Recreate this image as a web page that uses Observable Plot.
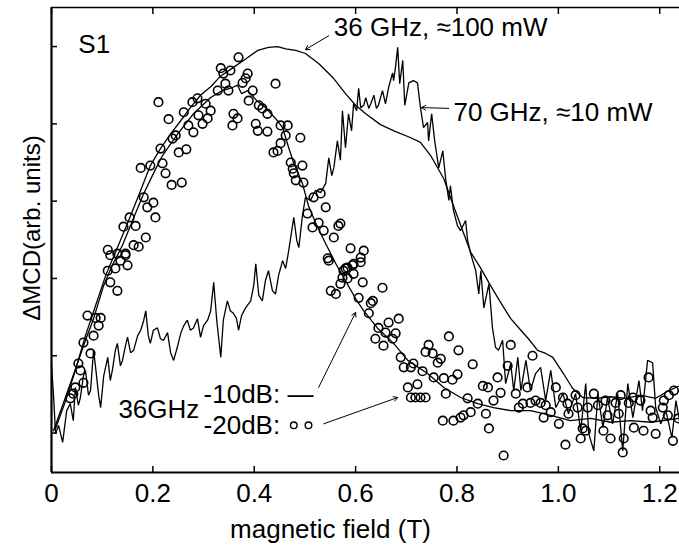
<!DOCTYPE html>
<html>
<head>
<meta charset="utf-8">
<script src="https://cdn.jsdelivr.net/npm/d3@7"></script>
<script src="https://cdn.jsdelivr.net/npm/@observablehq/plot@0.6"></script>
<style>
  html, body { margin: 0; padding: 0; background: #fff; }
  #chart { width: 679px; height: 546px; overflow: hidden; }
</style>
</head>
<body>
<div id="chart"></div>
<script>
// ---------- axes ----------
const xTicks = [0, 0.2, 0.4, 0.6, 0.8, 1.0, 1.2];
const xTickLabels = ["0", "0.2", "0.4", "0.6", "0.8", "1.0", "1.2"];
const yTicks = [0, 1, 2, 3, 4, 5];
const xDomain = [0, 1.239];
const yDomain = [-0.51, 5.505];
const xLabel = "magnetic field (T)";
const yLabel = "ΔMCD(arb. units)";

// ---------- 36 GHz, ≈100 mW (smooth line) ----------
const mw100_36GHz = [
  [0.008,0.06],[0.028,0.42],[0.047,0.81],[0.067,1.26],[0.087,1.65],[0.107,2.04],[0.132,2.43],
  [0.156,2.81],[0.176,3.14],[0.195,3.46],[0.215,3.68],[0.235,3.87],[0.255,4.04],[0.274,4.21],
  [0.294,4.37],[0.314,4.48],[0.334,4.62],[0.359,4.73],[0.383,4.84],[0.407,4.95],[0.428,4.99],
  [0.446,5.00],[0.462,4.97],[0.482,4.95],[0.501,4.91],[0.527,4.78],[0.555,4.60],[0.580,4.39],
  [0.600,4.24],[0.620,4.13],[0.649,3.99],[0.679,3.90],[0.709,3.82],[0.728,3.76],[0.748,3.59],
  [0.774,3.29],[0.793,2.94],[0.811,2.62],[0.827,2.34],[0.847,2.13],[0.866,1.91],[0.886,1.69],
  [0.906,1.48],[0.926,1.33],[0.941,1.22],[0.959,1.07],[0.975,1.03],[0.989,0.98],[1.009,0.78],
  [1.028,0.58],[1.048,0.46],[1.074,0.45],[1.103,0.47],[1.133,0.45],[1.162,0.49],[1.192,0.45],
  [1.218,0.55],[1.239,0.61]
];

// ---------- 70 GHz, ≈10 mW (noisy line) ----------
const mw10_70GHz = [
  [0.000,0.87],[0.004,0.49],[0.008,-0.01],[0.014,0.10],[0.022,-0.12],[0.030,0.29],[0.037,0.38],
  [0.043,0.16],[0.047,0.59],[0.053,0.36],[0.057,0.46],[0.063,0.74],[0.067,0.81],[0.073,0.49],
  [0.077,0.55],[0.083,1.07],[0.087,0.85],[0.093,0.49],[0.097,0.33],[0.103,0.74],[0.111,0.98],
  [0.116,0.68],[0.120,0.81],[0.126,1.07],[0.130,1.16],[0.136,0.87],[0.140,0.94],[0.146,1.13],
  [0.150,1.24],[0.156,1.04],[0.162,1.07],[0.170,1.26],[0.176,1.33],[0.182,1.46],[0.186,1.58],
  [0.191,1.26],[0.195,1.16],[0.201,1.33],[0.209,1.36],[0.215,1.22],[0.221,1.20],[0.229,1.30],
  [0.235,1.04],[0.241,0.94],[0.249,1.13],[0.255,1.29],[0.261,1.39],[0.268,1.46],[0.274,1.33],
  [0.280,1.36],[0.288,1.48],[0.294,1.24],[0.300,1.39],[0.308,1.46],[0.314,1.58],[0.320,1.95],
  [0.326,1.46],[0.334,0.98],[0.339,1.46],[0.347,1.71],[0.353,1.58],[0.359,1.55],[0.365,1.48],
  [0.369,1.33],[0.375,1.52],[0.383,1.62],[0.393,1.71],[0.399,1.91],[0.403,2.19],[0.409,1.78],
  [0.416,1.71],[0.422,1.97],[0.428,2.10],[0.436,1.84],[0.442,1.80],[0.448,2.04],[0.456,2.23],
  [0.462,2.13],[0.468,2.36],[0.474,2.62],[0.478,2.79],[0.484,2.49],[0.488,2.40],[0.495,2.81],
  [0.501,3.05],[0.511,3.01],[0.521,3.14],[0.531,3.11],[0.541,3.23],[0.547,3.56],[0.553,3.33],
  [0.557,3.43],[0.564,3.78],[0.570,3.53],[0.574,4.17],[0.580,3.69],[0.586,4.13],[0.592,3.91],
  [0.596,4.26],[0.602,4.17],[0.606,4.46],[0.610,4.21],[0.616,4.24],[0.620,4.34],[0.626,4.20],
  [0.630,4.26],[0.636,4.37],[0.641,4.20],[0.645,4.24],[0.653,4.43],[0.659,4.26],[0.665,4.47],
  [0.673,4.66],[0.675,4.56],[0.679,4.75],[0.683,4.99],[0.687,4.52],[0.693,4.82],[0.697,4.24],
  [0.705,4.53],[0.714,4.56],[0.722,4.53],[0.728,4.21],[0.734,3.95],[0.742,4.02],[0.744,3.78],
  [0.750,4.13],[0.756,3.78],[0.764,3.43],[0.772,3.65],[0.778,3.27],[0.784,3.01],[0.787,3.20],
  [0.793,2.88],[0.801,2.68],[0.807,2.62],[0.817,2.75],[0.821,2.49],[0.827,2.32],[0.837,2.10],
  [0.843,1.80],[0.847,2.10],[0.853,1.62],[0.863,1.93],[0.870,1.36],[0.876,1.11],[0.882,1.07],
  [0.890,1.20],[0.896,0.64],[0.906,0.90],[0.912,0.55],[0.920,0.98],[0.926,0.55],[0.936,0.94],
  [0.945,0.55],[0.955,0.77],[0.965,0.85],[0.975,0.42],[0.985,0.81],[0.995,0.33],[1.009,0.51],
  [1.020,0.25],[1.034,0.51],[1.044,0.03],[1.054,0.64],[1.060,-0.01],[1.070,-0.23],[1.078,0.51],
  [1.088,0.07],[1.097,0.46],[1.107,0.12],[1.117,0.51],[1.127,-0.23],[1.137,0.64],[1.147,0.20],
  [1.159,0.68],[1.166,0.29],[1.176,0.94],[1.186,0.91],[1.192,0.33],[1.202,0.12],[1.212,0.29],
  [1.224,-0.06],[1.232,0.42],[1.239,0.16]
];

// ---------- 36 GHz -10 dB (line) ----------
const db10_36GHz = [
  [0.004,0.03],[0.022,0.36],[0.037,0.64],[0.051,0.90],[0.067,1.20],[0.083,1.48],[0.103,1.91],
  [0.120,2.17],[0.140,2.43],[0.160,2.75],[0.180,3.07],[0.199,3.33],[0.219,3.59],[0.249,3.87],
  [0.280,4.13],[0.314,4.34],[0.337,4.43],[0.357,4.47],[0.367,4.50],[0.375,4.39],[0.387,4.43],
  [0.405,4.30],[0.422,4.21],[0.442,4.07],[0.456,3.95],[0.468,3.69],[0.478,3.49],[0.495,3.23],
  [0.507,2.94],[0.521,2.72],[0.541,2.45],[0.561,2.19],[0.580,1.97],[0.600,1.74],[0.616,1.58],
  [0.643,1.36],[0.675,1.16],[0.703,0.94],[0.742,0.77],[0.774,0.59],[0.807,0.46],[0.841,0.38],
  [0.872,0.33],[0.906,0.29],[0.945,0.29],[0.985,0.23],[1.024,0.16],[1.064,0.19],[1.103,0.14],
  [1.143,0.16],[1.182,0.14],[1.239,0.19]
];

// ---------- 36 GHz -20 dB (circles) ----------
const db20_36GHz = [
  [0.037,0.45],[0.043,0.51],[0.047,0.59],[0.063,0.65],[0.057,0.81],[0.053,0.90],[0.077,1.03],
  [0.063,1.17],[0.083,1.26],[0.093,1.39],[0.071,1.52],[0.087,1.49],[0.097,1.49],[0.130,1.84],
  [0.116,1.95],[0.111,2.10],[0.126,2.13],[0.150,2.17],[0.136,2.23],[0.116,2.30],[0.130,2.32],
  [0.146,2.30],[0.111,2.37],[0.146,2.32],[0.162,2.43],[0.172,2.41],[0.186,2.53],[0.142,2.67],
  [0.154,2.79],[0.166,2.68],[0.205,2.79],[0.189,2.92],[0.201,2.98],[0.182,3.05],[0.176,3.43],
  [0.195,3.46],[0.219,3.49],[0.225,3.36],[0.237,3.21],[0.257,3.24],[0.215,3.68],[0.251,3.63],
  [0.266,3.67],[0.245,3.85],[0.239,3.81],[0.280,3.89],[0.270,3.98],[0.298,4.00],[0.290,4.11],
  [0.261,4.15],[0.304,4.26],[0.278,4.28],[0.288,4.33],[0.231,4.06],[0.211,4.28],[0.308,4.07],
  [0.314,4.17],[0.334,4.72],[0.339,4.65],[0.353,4.69],[0.369,4.86],[0.387,4.65],[0.383,4.59],
  [0.377,4.53],[0.328,4.43],[0.343,4.52],[0.349,4.43],[0.397,4.43],[0.442,4.52],[0.359,4.13],
  [0.367,4.07],[0.357,3.98],[0.389,4.30],[0.409,4.24],[0.416,4.20],[0.426,4.13],[0.403,4.00],
  [0.407,3.91],[0.426,3.90],[0.452,3.98],[0.466,3.98],[0.462,3.85],[0.491,3.82],[0.452,3.75],
  [0.438,3.63],[0.446,3.65],[0.472,3.50],[0.476,3.42],[0.478,3.36],[0.495,3.46],[0.482,3.27],
  [0.497,3.24],[0.517,3.05],[0.531,3.10],[0.541,2.92],[0.505,2.84],[0.515,2.66],[0.527,2.72],
  [0.537,2.62],[0.566,2.68],[0.557,2.53],[0.590,2.39],[0.616,2.36],[0.547,2.23],[0.570,2.71],
  [0.610,2.27],[0.596,2.19],[0.584,2.14],[0.576,2.10],[0.545,2.26],[0.580,2.13],[0.594,2.17],
  [0.610,2.21],[0.596,2.06],[0.574,2.01],[0.584,2.00],[0.570,1.93],[0.614,1.95],[0.551,1.84],
  [0.561,1.80],[0.606,1.75],[0.653,1.88],[0.634,1.71],[0.630,1.68],[0.626,1.55],[0.665,1.43],
  [0.685,1.48],[0.645,1.36],[0.659,1.30],[0.679,1.29],[0.673,1.22],[0.639,1.22],[0.655,1.13],
  [0.784,1.25],[0.744,1.14],[0.738,1.05],[0.752,1.03],[0.768,0.96],[0.762,0.91],[0.803,1.07],
  [0.689,0.98],[0.714,0.90],[0.695,0.85],[0.709,0.85],[0.732,0.80],[0.831,0.89],[0.754,0.72],
  [0.774,0.71],[0.791,0.69],[0.801,0.76],[0.703,0.59],[0.722,0.63],[0.778,0.51],[0.709,0.46],
  [0.718,0.46],[0.728,0.46],[0.738,0.46],[0.851,0.61],[0.861,0.59],[0.821,0.45],[0.841,0.38],
  [0.857,0.25],[0.827,0.27],[0.813,0.23],[0.807,0.20],[0.793,0.16],[0.772,0.16],[0.863,0.06],
  [0.880,0.72],[0.886,0.52],[0.872,0.42],[0.892,-0.29],[0.906,1.14],[0.900,0.87],[0.949,1.00],
  [1.014,-0.15],[1.001,0.12],[0.916,0.51],[0.939,0.59],[0.930,0.38],[0.945,0.39],[0.955,0.42],
  [0.965,0.39],[0.975,0.36],[0.922,0.33],[0.985,0.27],[0.971,0.20],[0.995,0.59],[1.009,0.46],
  [1.018,0.38],[1.034,0.49],[1.038,0.33],[1.020,0.25],[1.048,0.06],[1.054,0.03],[1.044,-0.07],
  [1.058,0.33],[1.070,0.51],[1.078,0.36],[1.093,0.42],[1.089,0.03],[1.103,-0.07],[1.097,0.23],
  [1.113,0.39],[1.123,0.49],[1.119,0.25],[1.129,-0.07],[1.127,-0.25],[1.139,0.39],[1.147,0.46],
  [1.149,0.07],[1.162,0.42],[1.168,0.03],[1.178,0.72],[1.182,0.29],[1.186,0.20],[1.192,-0.01],
  [1.206,0.33],[1.208,0.42],[1.218,0.49],[1.228,0.55],[1.226,-0.10],[1.237,0.19],[1.216,0.23]
];

// ---------- annotations ----------
const notes = [
  {text: "S1", x: 0.053, y: 4.92},
  {text: "36 GHz, ≈100 mW", x: 0.557, y: 5.13},
  {text: "70 GHz, ≈10 mW", x: 0.793, y: 4.04},
  {text: "36GHz", x: 0.132, y: 0.19},
  {text: "-10dB: —", x: 0.300, y: 0.39},
  {text: "-20dB:", x: 0.300, y: -0.01}
];
const legendCircles = [[0.478, 0.10], [0.507, 0.10]];
const arrows = [
  {x1: 0.547, y1: 5.14, x2: 0.501, y2: 4.96},
  {x1: 0.784, y1: 4.20, x2: 0.730, y2: 4.21},
  {x1: 0.527, y1: 0.59, x2: 0.600, y2: 1.56},
  {x1: 0.537, y1: 0.12, x2: 0.683, y2: 0.46}
];

const toXY = a => a.map(([x, y]) => ({x, y}));
const font = "'Liberation Sans', Arial, Helvetica, sans-serif";

const chart = Plot.plot({
  width: 679,
  height: 546,
  marginLeft: 51,
  marginRight: 0,
  marginTop: 7,
  marginBottom: 74,
  style: {fontFamily: font, fontSize: "26px", background: "#fff", color: "#000"},
  x: {domain: xDomain},
  y: {domain: yDomain},
  marks: [
    // frame
    Plot.ruleY([yDomain[0]], {stroke: "#000", strokeWidth: 2.2}),
    Plot.ruleY([yDomain[1]], {stroke: "#000", strokeWidth: 1.6}),
    Plot.ruleX([xDomain[0]], {stroke: "#000", strokeWidth: 2.2}),
    // inward ticks
    Plot.axisX({anchor: "bottom", ticks: xTicks, tickSize: -6, text: null, label: null, strokeWidth: 1.5}),
    Plot.axisX({anchor: "top", ticks: xTicks, tickSize: -6, text: null, label: null, strokeWidth: 1.5}),
    Plot.axisY({anchor: "left", ticks: yTicks, tickSize: -6, text: null, label: null, strokeWidth: 1.5}),
    // tick labels
    Plot.axisX({anchor: "bottom", ticks: xTicks, tickSize: 0, tickPadding: 11, label: null,
      tickFormat: d => xTickLabels[xTicks.indexOf(d)], fontSize: 26, fill: "#000"}),
    // axis titles
    Plot.text([xLabel], {frameAnchor: "bottom", dx: -35, dy: 65, lineAnchor: "bottom",
      fontSize: 26, fill: "#000"}),
    Plot.text([yLabel], {frameAnchor: "left", rotate: -90, dx: -12, dy: -12, lineAnchor: "bottom",
      textAnchor: "middle", fontSize: 24, fill: "#000"}),
    // data
    Plot.line(toXY(mw100_36GHz), {x: "x", y: "y", stroke: "#000", strokeWidth: 1.3}),
    Plot.line(toXY(db10_36GHz), {x: "x", y: "y", stroke: "#000", strokeWidth: 1.3}),
    Plot.line(toXY(mw10_70GHz), {x: "x", y: "y", stroke: "#000", strokeWidth: 1.3, strokeLinejoin: "miter"}),
    Plot.dot(toXY(db20_36GHz), {x: "x", y: "y", r: 4.3, stroke: "#000", strokeWidth: 1.6, fill: "none"}),
    // annotations
    Plot.text(notes, {x: "x", y: "y", text: "text", textAnchor: "start", lineAnchor: "bottom",
      fontSize: 26, fill: "#000"}),
    Plot.dot(toXY(legendCircles), {x: "x", y: "y", r: 3.3, stroke: "#000", strokeWidth: 1.4, fill: "none"}),
    Plot.arrow(arrows, {x1: "x1", y1: "y1", x2: "x2", y2: "y2", stroke: "#000", strokeWidth: 1,
      headLength: 7})
  ]
});
document.getElementById("chart").appendChild(chart);
</script>
</body>
</html>
